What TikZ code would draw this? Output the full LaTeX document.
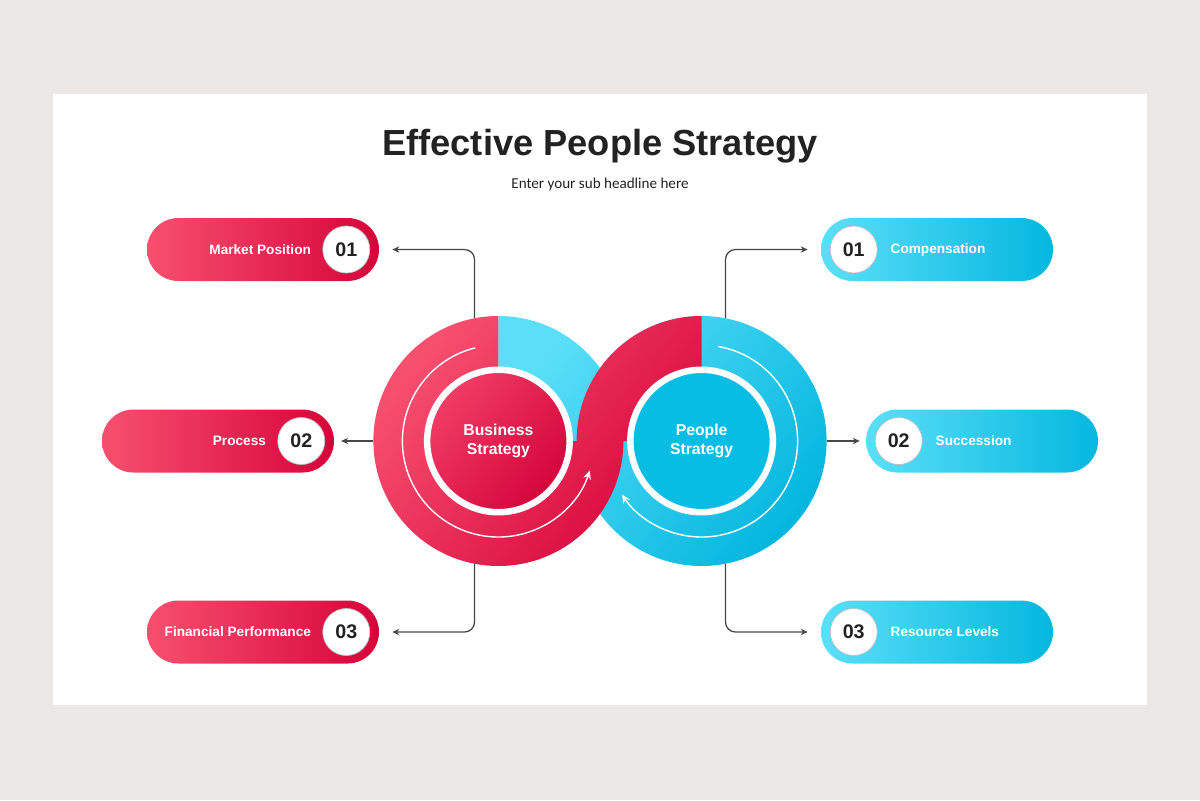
\documentclass[tikz,border=0pt]{standalone}
\usepackage{fontspec}
\setmainfont{Liberation Sans}
\newfontfamily\subfont{Carlito}
\usetikzlibrary{positioning,shapes.misc,arrows.meta}

\definecolor{slidebg}{HTML}{ECE8E6}
\definecolor{inkdark}{HTML}{222222}
\definecolor{linkgray}{HTML}{474747}
\definecolor{redlight}{HTML}{F7506F}
\definecolor{reddark}{HTML}{D6043A}
\definecolor{cyanlight}{HTML}{5BDFF8}
\definecolor{cyandark}{HTML}{05B7DF}
\definecolor{corelight}{HTML}{F03D66}
\definecolor{coredark}{HTML}{D4043A}
\definecolor{corecyan}{HTML}{07BDE3}

\tikzset{
  ringspot/.style={circle, minimum size=6.25cm, inner sep=0pt, outer sep=0pt},
  redpill/.style={rounded rectangle, minimum width=5.8cm, minimum height=1.575cm,
    inner sep=0pt, left color=redlight, right color=reddark},
  cyanpill/.style={rounded rectangle, minimum width=5.8cm, minimum height=1.575cm,
    inner sep=0pt, left color=cyanlight, right color=cyandark},
  numdot/.style={circle, fill=white, draw=black!25, line width=0.5pt,
    minimum size=1.175cm, inner sep=0pt, text=inkdark,
    font=\fontsize{14}{16}\selectfont\bfseries},
  pilltext/.style={text=white, inner sep=0pt,
    font=\fontsize{9.7}{11}\selectfont\bfseries},
  coretext/.style={circle, minimum size=3.5625cm, inner sep=0pt, draw=white,
    line width=4.6pt, text=white, align=center,
    font=\fontsize{11.2}{13.5}\selectfont\bfseries},
  link/.style={draw=linkgray, line width=0.9pt, rounded corners=0.25cm,
    -{Stealth[length=5pt,width=4.5pt]}},
  swirl/.style={draw=white, line width=1pt, -{Stealth[length=6pt,width=5.5pt]}},
}

\begin{document}
\begin{tikzpicture}
  % page and slide
  \fill[slidebg] (0cm,0cm) rectangle (30cm,-20cm);
  \fill[white] (1.325cm,-2.35cm) rectangle (28.675cm,-17.625cm);
  \node[text=inkdark, font=\fontsize{25.8}{30}\selectfont\bfseries] (title) at (15cm,-3.66cm) {Effective People Strategy};
  \node[text=inkdark, font=\subfont\fontsize{10.75}{13}\selectfont] (subtitle) at (15cm,-4.6cm) {Enter your sub headline here};

  % the two rings
  \node[ringspot] (biz) at (12.46cm,-11.025cm) {};
  \node[ringspot] (ppl) at (17.54cm,-11.025cm) {};

  % left pills
  \node[redpill] (mkt) at (6.575cm,-6.2375cm) {};
  \node[redpill] (proc) at (5.45cm,-11.025cm) {};
  \node[redpill] (fin) at (6.575cm,-15.8cm) {};
  % right pills
  \node[cyanpill] (comp) at (23.425cm,-6.2375cm) {};
  \node[cyanpill] (succ) at (24.55cm,-11.025cm) {};
  \node[cyanpill] (res) at (23.425cm,-15.8cm) {};

  % connectors
  \draw[link, shorten >=0.325cm] (biz.101) |- (mkt.east);
  \draw[link, shorten >=0.17cm] (biz.west) -- (proc.east);
  \draw[link, shorten >=0.325cm] (biz.259) |- (fin.east);
  \draw[link, shorten >=0.325cm] (ppl.79) |- (comp.west);
  \draw[link, shorten >=0.15cm] (ppl.east) -- (succ.west);
  \draw[link, shorten >=0.325cm] (ppl.281) |- (res.west);

  % cyan band, then red band over it
  \shade[top color=cyanlight, bottom color=cyandark, shading angle=50]
    (biz.center) -- (biz.0) arc[start angle=0, end angle=90, radius=3.125cm] -- cycle
    (ppl.center) circle[radius=3.125cm];
  \shade[top color=redlight, bottom color=reddark, shading angle=50]
    (biz.center) -- (biz.90) arc[start angle=90, end angle=360, radius=3.125cm] -- cycle
    (ppl.center) -- (ppl.90) arc[start angle=90, end angle=180, radius=3.125cm] -- cycle;

  % cores
  \node[coretext, top color=corelight, bottom color=coredark, shading angle=50] (bizcore) at (biz.center) {Business\\Strategy};
  \node[coretext, fill=corecyan] (pplcore) at (ppl.center) {People\\Strategy};

  % turning arrows
  \draw[swirl] ([shift={(104:2.4cm)}]biz.center) arc[start angle=104, end angle=342, radius=2.4cm];
  \draw[swirl] ([shift={(80:2.4cm)}]ppl.center) arc[start angle=80, end angle=-146, radius=2.4cm];

  % numbers and labels
  \node[numdot] (mktnum) at ([xshift=-0.825cm]mkt.east) {01};
  \node[pilltext, anchor=east] (mkttext) at ([xshift=-0.28cm]mktnum.west) {Market Position};
  \node[numdot] (procnum) at ([xshift=-0.825cm]proc.east) {02};
  \node[pilltext, anchor=east] (proctext) at ([xshift=-0.28cm]procnum.west) {Process};
  \node[numdot] (finnum) at ([xshift=-0.825cm]fin.east) {03};
  \node[pilltext, anchor=east] (fintext) at ([xshift=-0.28cm]finnum.west) {Financial Performance};
  \node[numdot] (compnum) at ([xshift=0.825cm]comp.west) {01};
  \node[pilltext, anchor=west] (comptext) at ([xshift=0.32cm]compnum.east) {Compensation};
  \node[numdot] (succnum) at ([xshift=0.825cm]succ.west) {02};
  \node[pilltext, anchor=west] (succtext) at ([xshift=0.32cm]succnum.east) {Succession};
  \node[numdot] (resnum) at ([xshift=0.825cm]res.west) {03};
  \node[pilltext, anchor=west] (restext) at ([xshift=0.32cm]resnum.east) {Resource Levels};
\end{tikzpicture}
\end{document}
